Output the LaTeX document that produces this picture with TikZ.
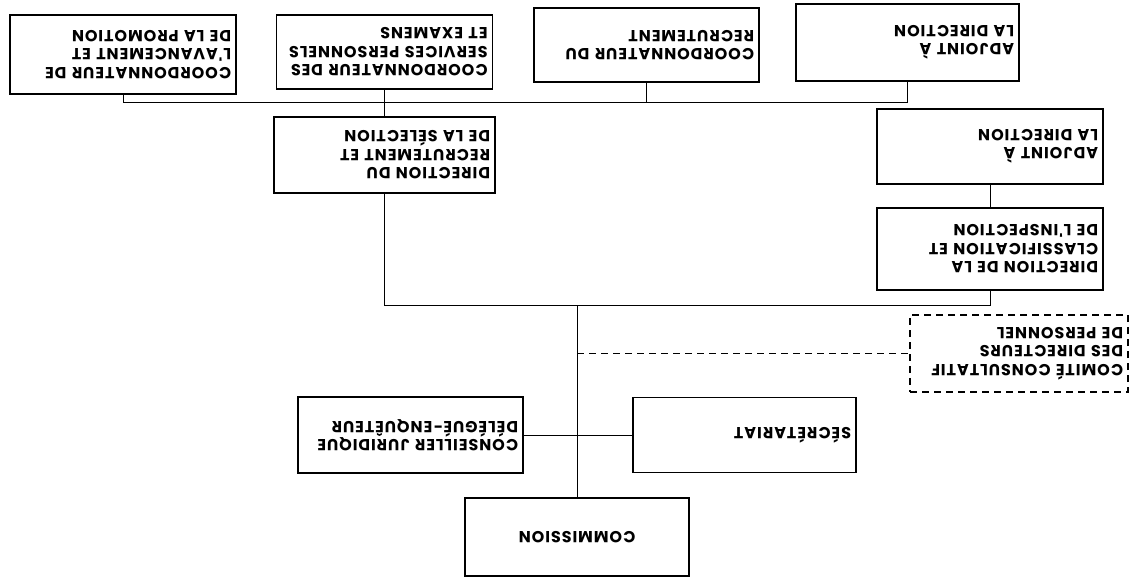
\documentclass[tikz,border=0pt]{standalone}
\usepackage{fontspec}
\newfontfamily\orgfont[LetterSpace=6]{Poppins}
\usetikzlibrary{positioning}

\begin{document}
\begin{tikzpicture}[
  x=1pt, y=-1pt,
  box/.style={draw, line width=1.1pt, rotate=180, minimum height=76pt, inner xsep=5pt, align=left, font=\orgfont\bfseries\fontsize{16}{18.5}\selectfont},
  dbox/.style={box, dash pattern=on 7pt off 5pt},
  link/.style={draw, line width=1pt}
]
  \useasboundingbox (0,0) rectangle (1130,578);
  \node[box, minimum height=79pt, text width=216pt] (avan) at (123,54.5) {COORDONNATEUR DE\\L'AVANCEMENT ET\\DE LA PROMOTION};
  \node[box, minimum height=74pt, text width=206pt] (serv) at (384.5,52) {COORDONNATEUR DES\\SERVICES PERSONNELS\\ET EXAMENS};
  \node[box, minimum height=74pt, text width=215pt] (recr) at (646.5,45) {COORDONNATEUR DU\\RECRUTEMENT};
  \node[box, minimum height=77pt, text width=213pt] (adja) at (907.5,42.5) {ADJOINT À\\LA DIRECTION};
  \node[box, text width=211pt] (dirrec) at (384.5,155) {DIRECTION DU\\RECRUTEMENT ET\\DE LA SÉLECTION};
  \node[box, minimum height=75pt, text width=216pt] (adjb) at (990,146.5) {ADJOINT À\\LA DIRECTION};
  \node[box, minimum height=82pt, text width=216pt] (dircl) at (990,249) {DIRECTION DE LA\\CLASSIFICATION ET\\DE L'INSPECTION};
  \node[dbox, minimum height=77pt, text width=208pt] (comite) at (1019,353.5) {COMITÉ CONSULTATIF\\DES DIRECTEURS\\DE PERSONNEL};
  \node[box, text width=215pt] (jur) at (410.5,435) {CONSEILLER JURIDIQUE\\DÉLÉGUÉ-ENQUÊTEUR};
  \node[box, minimum height=75pt, text width=213pt] (secr) at (744.5,435) {SÉCRÉTARIAT};
  \node[box, minimum height=78pt, text width=214pt, align=center] (comm) at (577,537) {COMMISSION};

  \coordinate (bus1) at (0,102);
  \coordinate (bus2) at (577,305);
  \draw[link] (avan) -- (avan |- bus1) -| (adja);
  \draw[link] (recr) -- (recr |- bus1);
  \draw[link] (serv) -- (dirrec);
  \draw[link] (dirrec) -- (dirrec |- bus2) -| (dircl);
  \draw[link] (adjb) -- (dircl);
  \draw[link] (bus2) -- (comm);
  \draw[link] (jur) -- (secr);
  \draw[link, dash pattern=on 7pt off 5pt] (comm |- comite) -- (comite);
\end{tikzpicture}
\end{document}
